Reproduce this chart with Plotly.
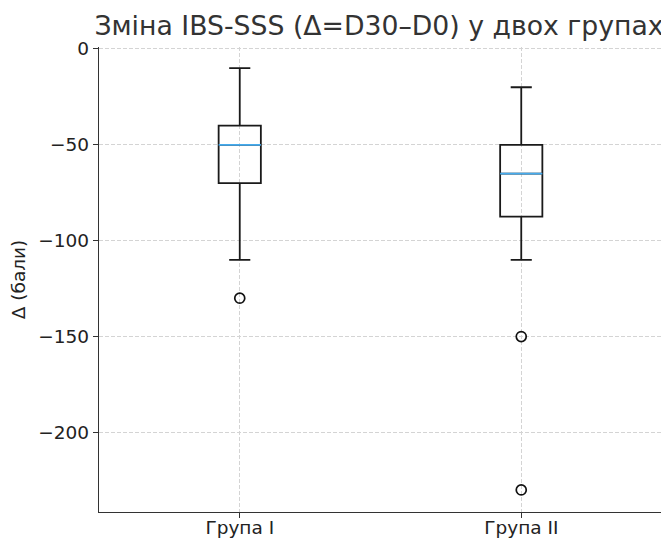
import plotly.graph_objects as go

groups = ["Група I", "Група II"]
positions = [1, 2]
upper_whisker = [-10, -20]
q3 = [-40, -50]
median = [-50, -65]
q1 = [-70, -87.5]
lower_whisker = [-110, -110]
outliers = [[-130], [-150, -230]]
y_ticks = [0, -50, -100, -150, -200]

BOX_W = 0.15
FONT = "DejaVu Sans"

# page body has an 8px default margin; figure sized/placed to fill the 669x538 window
W, H = 661, 530

fig = go.Figure()
for i, g in enumerate(groups):
    fig.add_trace(go.Box(
        x=[positions[i]], q1=[q1[i]], median=[median[i]], q3=[q3[i]],
        lowerfence=[lower_whisker[i]], upperfence=[upper_whisker[i]],
        width=BOX_W, whiskerwidth=0.5,
        line=dict(color="#1a1a1a", width=1.8), fillcolor="rgba(0,0,0,0)",
        boxpoints=False, showlegend=False, hoverinfo="skip",
    ))
    fig.add_trace(go.Scatter(
        x=[positions[i] - BOX_W / 2, positions[i] + BOX_W / 2],
        y=[median[i], median[i]], mode="lines",
        line=dict(color="#45ABEE", width=1.8), showlegend=False, hoverinfo="skip",
    ))
    fig.add_trace(go.Scatter(
        x=[positions[i]] * len(outliers[i]), y=outliers[i], mode="markers",
        marker=dict(symbol="circle-open", size=10, color="#111111", line=dict(width=1.7)),
        showlegend=False, hoverinfo="skip",
    ))

axis_common = dict(
    showline=True, linecolor="#333333", linewidth=1.3,
    ticks="outside", ticklen=5, tickcolor="#333333", tickwidth=1.2,
    tickfont=dict(family=FONT, size=18.5, color="#222222"),
    showgrid=True, gridcolor="#d4d4d4", griddash="4px,2px", gridwidth=1,
    zeroline=False, mirror=False, automargin=False,
)

fig.update_layout(
    width=W, height=H,
    margin=dict(l=91, r=7, t=39, b=26),
    plot_bgcolor="white", paper_bgcolor="white",
    title=dict(text="Зміна IBS-SSS (Δ=D30–D0) у двох групах",
               font=dict(family=FONT, size=26.7, color="#333333"),
               x=371 / W, xanchor="center",
               y=1 - 18 / H, yanchor="middle", yref="container"),
    xaxis=dict(range=[0.5, 2.5], tickvals=positions, ticktext=groups,
               ticklabelstandoff=-6, **axis_common),
    yaxis=dict(range=[-241.5, 1], tickvals=y_ticks,
               title=dict(text="Δ (бали)", font=dict(family=FONT, size=18.5, color="#222222"), standoff=10),
               **axis_common),
)

fig.write_html("out.html")
